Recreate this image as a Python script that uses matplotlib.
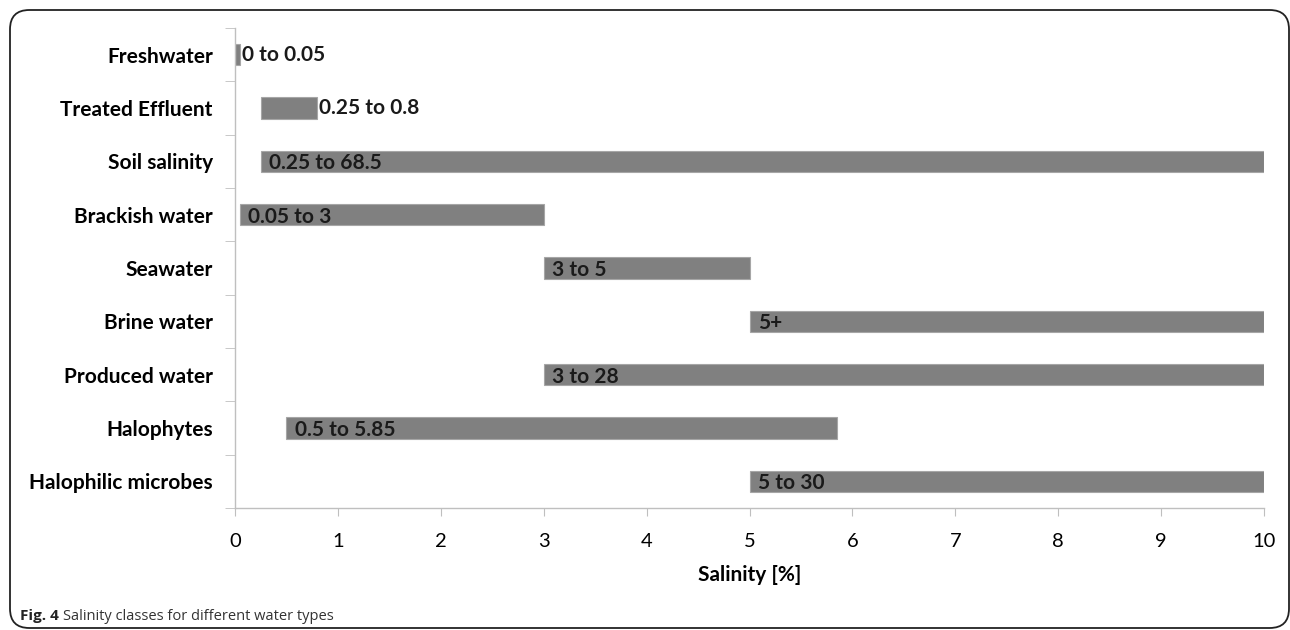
import matplotlib
matplotlib.use("Agg")
import matplotlib.pyplot as plt
from matplotlib.patches import FancyBboxPatch
import numpy as np

plt.rcParams["font.family"] = ["Lato", "DejaVu Sans"]

categories = ["Freshwater", "Treated Effluent", "Soil salinity", "Brackish water",
              "Seawater", "Brine water", "Produced water", "Halophytes",
              "Halophilic microbes"]
starts = [0, 0.25, 0.25, 0.05, 3, 5, 3, 0.5, 5]
ends = [0.05, 0.8, 68.5, 3, 5, 10, 28, 5.85, 30]
range_labels = ["0 to 0.05", "0.25 to 0.8", "0.25 to 68.5", "0.05 to 3", "3 to 5",
                "5+", "3 to 28", "0.5 to 5.85", "5 to 30"]
# labels for these two sit after the bar end, the rest just inside the start
outside_end = {"Freshwater", "Treated Effluent"}

XMAX = 10
W, H = 1290, 630
fig = plt.figure(figsize=(W / 100, H / 100), dpi=100)
ax = fig.add_axes([235 / W, 1 - 508 / H, (1264 - 235) / W, (508 - 28) / H])

y = np.arange(len(categories))
widths = [min(e, XMAX) - s for s, e in zip(starts, ends)]
ax.barh(y, widths, left=starts, height=0.4, color="#808080",
        edgecolor="#a6a6a6", linewidth=0.8)

for yi, cat, s, e, lab in zip(y, categories, starts, ends, range_labels):
    if cat in outside_end:
        ax.text(min(e, XMAX) + 0.02, yi, lab, va="center", ha="left",
                fontsize=15, fontweight="bold", color="#1a1a1a")
    else:
        ax.text(s + 0.08, yi + 0.04, lab, va="center", ha="left",
                fontsize=15, fontweight="bold", color="#1a1a1a")

ax.set_xlim(0, XMAX)
ax.set_ylim(len(categories) - 0.5, -0.5)
ax.set_xticks(range(0, XMAX + 1))
ax.tick_params(axis="x", length=6, color="#bfbfbf", labelsize=14.5, pad=12)
ax.set_yticks(y)
ax.set_yticklabels(categories, fontsize=15, fontweight="bold")
ax.tick_params(axis="y", which="major", length=0, pad=16)
ax.set_yticks(np.arange(-0.5, len(categories)), minor=True)
ax.tick_params(axis="y", which="minor", length=7, color="#bfbfbf")

for side in ["top", "right"]:
    ax.spines[side].set_visible(False)
for side in ["left", "bottom"]:
    ax.spines[side].set_color("#bfbfbf")
    ax.spines[side].set_linewidth(1.0)

ax.set_xlabel("Salinity [%]", fontsize=15, fontweight="bold", labelpad=11)

# rounded frame around the figure
frame = FancyBboxPatch((10 / W, 2 / H), (1289 - 10) / W, (620 - 2) / H,
                       boxstyle="round,pad=0,rounding_size=0.015",
                       transform=fig.transFigure, fill=False,
                       edgecolor="#222222", linewidth=1.3, mutation_aspect=W / H)
fig.patches.append(frame)

# caption
fig.canvas.draw()
t1 = fig.text(20 / W, 1 - 620 / H, "Fig. 4", fontsize=11, fontweight="bold",
              color="#222222", va="baseline", family=["Open Sans", "DejaVu Sans"])
bb = t1.get_window_extent(fig.canvas.get_renderer())
fig.text(bb.x1 / W + 4 / W, 1 - 620 / H, "Salinity classes for different water types",
         fontsize=10.5, color="#333333", va="baseline",
         family=["Open Sans", "DejaVu Sans"])

fig.savefig("out.png", dpi=100)
